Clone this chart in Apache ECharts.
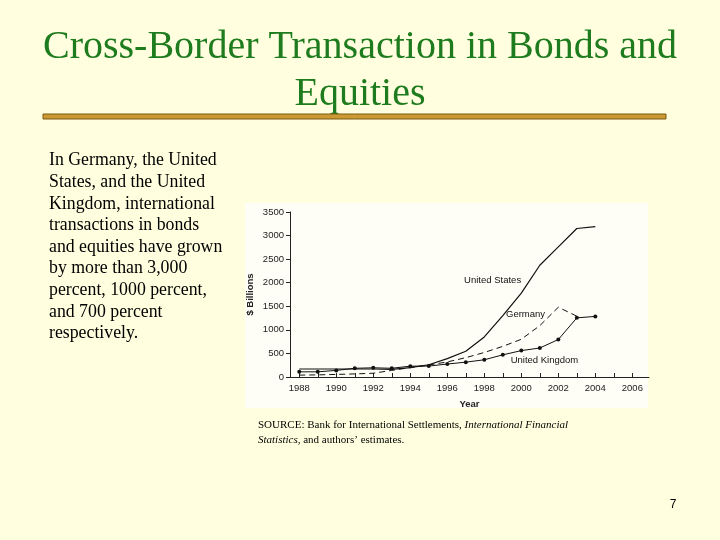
<!DOCTYPE html>
<html>
<head>
<meta charset="utf-8">
<script src="https://cdn.jsdelivr.net/npm/echarts@6/dist/echarts.min.js"></script>
<style>
  html, body { margin: 0; padding: 0; background: #FFFFDF; }
  #chart { width: 720px; height: 540px; }
</style>
</head>
<body>
<div id="chart"></div>
<script>
// values, $ billions
var years = [1988, 1989, 1990, 1991, 1992, 1993, 1994, 1995, 1996, 1997, 1998, 1999, 2000, 2001, 2002, 2003, 2004];
var usValues = [170, 170, 170, 170, 170, 160, 200, 260, 390, 545, 850, 1300, 1780, 2370, 2760, 3150, 3190];
var germanyValues = [40, 45, 55, 65, 80, 140, 200, 255, 320, 410, 520, 650, 800, 1090, 1480, 1290, null];
var ukValues = [110, 110, 140, 185, 195, 185, 230, 232, 275, 315, 365, 470, 560, 615, 795, 1255, 1285];
var tickYears = [1988, 1989, 1990, 1991, 1992, 1993, 1994, 1995, 1996, 1997, 1998, 1999, 2000, 2001, 2002, 2003, 2004, 2005, 2006];
var labelYears = [1988, 1990, 1992, 1994, 1996, 1998, 2000, 2002, 2004, 2006];

var bodyLines = [
  'In Germany, the United',
  'States, and the United',
  'Kingdom, international',
  'transactions in bonds',
  'and equities have grown',
  'by more than 3,000',
  'percent, 1000 percent,',
  'and 700 percent',
  'respectively.'
];

function pairs(vals) {
  var out = [];
  for (var i = 0; i < years.length; i++) {
    if (vals[i] != null) out.push([years[i], vals[i]]);
  }
  return out;
}

function tag(text, x, y) {
  return {
    coord: [x, y],
    symbol: 'rect',
    symbolSize: 1,
    itemStyle: { color: 'rgba(0,0,0,0)' },
    label: { show: true, position: 'inside', formatter: text, color: '#111', fontSize: 9.5, fontFamily: 'Liberation Sans' }
  };
}

function plain(v) { return String(v); }

var myChart = echarts.init(document.getElementById('chart'));
var axisFont = { fontFamily: 'Liberation Sans', fontSize: 9.5, color: '#222', formatter: plain };

var option = {
  animation: false,
  backgroundColor: '#FFFFDF',
  graphic: [
    { type: 'rect', z: -10, shape: { x: 245, y: 203, width: 403, height: 205 }, style: { fill: '#FEFEF6' } },
    { type: 'text', left: 'center', top: 27, style: { text: 'Cross-Border Transaction in Bonds and', fontFamily: 'Liberation Serif', fontSize: 40, fill: '#1E7B1E' } },
    { type: 'text', left: 'center', top: 74, style: { text: 'Equities', fontFamily: 'Liberation Serif', fontSize: 40, fill: '#1E7B1E' } },
    { type: 'rect', shape: { x: 43, y: 114, width: 623, height: 5 }, style: { fill: '#CC9933', stroke: '#7A5A14', lineWidth: 1 } },
    { type: 'text', x: 49, y: 150, style: { text: bodyLines.join('\n'), fontFamily: 'Liberation Serif', fontSize: 17.8, lineHeight: 21.6, fill: '#000' } },
    { type: 'text', x: 258, y: 418, style: {
        text: 'SOURCE: Bank for International Settlements, {i|International Financial}\n{i|Statistics}, and authors\u2019 estimates.',
        fontFamily: 'Liberation Serif', fontSize: 11, lineHeight: 14.5, fill: '#000',
        rich: { i: { fontStyle: 'italic', fontFamily: 'Liberation Serif', fontSize: 11, lineHeight: 14.5 } }
      } },
    { type: 'text', x: 673, y: 505, style: { text: '7', fontFamily: 'Liberation Sans', fontSize: 12, fill: '#000', align: 'center', verticalAlign: 'middle' } }
  ],
  grid: { left: 290, top: 212, right: 71, bottom: 163 },
  xAxis: {
    type: 'value',
    min: 1987.5,
    max: 2006.9,
    name: 'Year',
    nameLocation: 'middle',
    nameGap: 22,
    nameTextStyle: { fontFamily: 'Liberation Sans', fontSize: 9.5, fontWeight: 'bold', color: '#222' },
    axisLine: { show: true, lineStyle: { color: '#222', width: 1 } },
    axisTick: { show: true, inside: true, length: 4, customValues: tickYears, lineStyle: { color: '#222' } },
    axisLabel: Object.assign({ customValues: labelYears, margin: 6 }, axisFont),
    splitLine: { show: false }
  },
  yAxis: {
    type: 'value',
    min: 0,
    max: 3500,
    interval: 500,
    name: '$ Billions',
    nameLocation: 'middle',
    nameGap: 35,
    nameTextStyle: { fontFamily: 'Liberation Sans', fontSize: 9.5, fontWeight: 'bold', color: '#222' },
    axisLine: { show: true, lineStyle: { color: '#222', width: 1 } },
    axisTick: { show: true, length: 4, lineStyle: { color: '#222' } },
    axisLabel: Object.assign({ margin: 6 }, axisFont),
    splitLine: { show: false }
  },
  series: [
    {
      name: 'United States',
      type: 'line',
      data: pairs(usValues),
      symbol: 'none',
      lineStyle: { color: '#111', width: 1.2 },
      markPoint: { data: [tag('United States', 1998.45, 2056)] }
    },
    {
      name: 'Germany',
      type: 'line',
      data: pairs(germanyValues),
      symbol: 'none',
      lineStyle: { color: '#111', width: 1, type: [6, 4] },
      markPoint: { data: [tag('Germany', 2000.23, 1338)] }
    },
    {
      name: 'United Kingdom',
      type: 'line',
      data: pairs(ukValues),
      symbol: 'circle',
      symbolSize: 4,
      itemStyle: { color: '#111' },
      lineStyle: { color: '#111', width: 1 },
      markPoint: { data: [tag('United Kingdom', 2001.25, 351)] }
    }
  ]
};

myChart.setOption(option);
</script>
</body>
</html>
